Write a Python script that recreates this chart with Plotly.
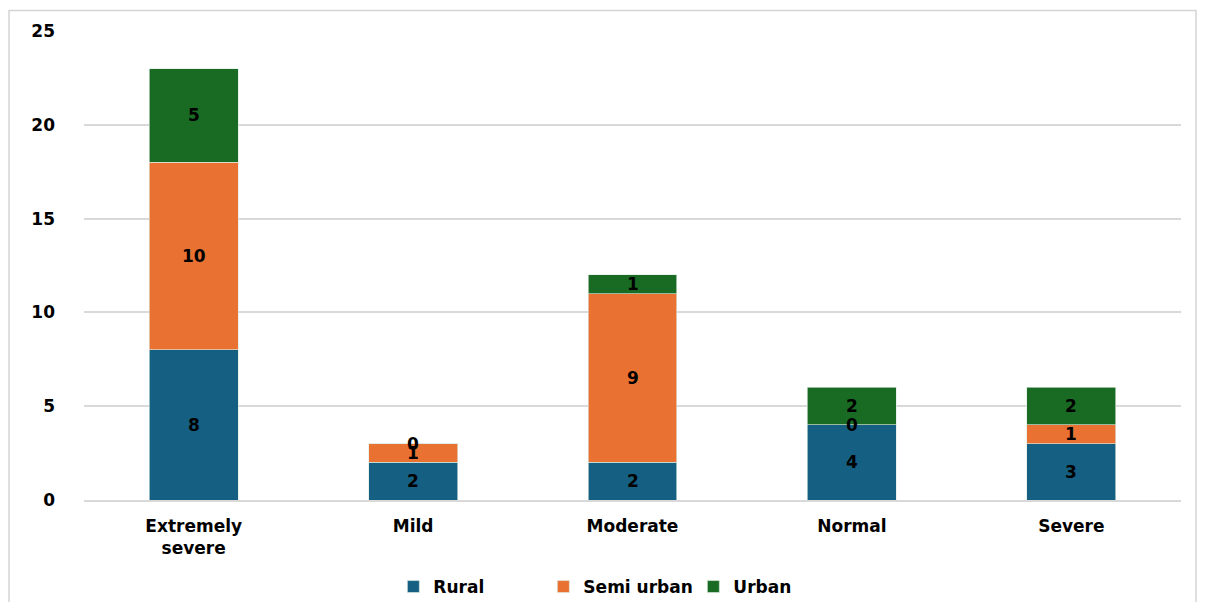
import plotly.graph_objects as go

categories = ["Extremely severe", "Mild", "Moderate", "Normal", "Severe"]
tick_labels = ["Extremely<br>severe", "Mild", "Moderate", "Normal", "Severe"]
rural = [8, 2, 2, 4, 3]
semi_urban = [10, 1, 9, 0, 1]
urban = [5, 0, 1, 2, 2]

series = [("Rural", rural, "#156082"), ("Semi urban", semi_urban, "#E97132"), ("Urban", urban, "#196B24")]

FONT = "DejaVu Sans, Verdana, sans-serif"
FS = 17
# page body adds an 8px margin, so the figure is drawn 8px smaller on each side
OFF = 8
W, H = 1205 - 2 * OFF, 610 - 2 * OFF
ml, mr, mt, mb = 83.5 - OFF, 1205 - 1181 - OFF, 31 - OFF, 610 - 500 - OFF
pw, ph = W - ml - mr, H - mt - mb


def px(x):
    return (x - OFF - ml) / pw


def py(y):
    return (H - mb - (y - OFF)) / ph


fig = go.Figure()
annotations = []
base = [0] * len(categories)
for name, vals, color in series:
    fig.add_trace(go.Bar(
        x=categories, y=vals, name=name,
        marker=dict(color=color, line=dict(color="rgba(220,235,225,0.8)", width=0.8)),
    ))
    for i, v in enumerate(vals):
        annotations.append(dict(
            x=categories[i], y=base[i] + v / 2, xref="x", yref="y",
            text=f"<b>{v}</b>", showarrow=False,
            font=dict(family=FONT, size=FS, color="#000000"),
        ))
        base[i] += v

fig.update_layout(
    barmode="stack",
    bargap=0.595,
    width=W, height=H,
    margin=dict(l=ml, r=mr, t=mt, b=mb, autoexpand=False),
    paper_bgcolor="white", plot_bgcolor="white",
    font=dict(family=FONT, size=FS, color="#000000"),
    annotations=annotations,
    legend=dict(
        orientation="h", x=px(393), xanchor="left", y=py(587), yanchor="middle",
        font=dict(family=FONT, size=FS, color="#000000", weight="bold"),
        itemwidth=30, traceorder="normal",
        entrywidth=105, entrywidthmode="pixels",
    ),
    shapes=[dict(type="rect", xref="paper", yref="paper",
                 x0=px(8.5), x1=px(1196), y0=py(640), y1=py(10.5),
                 line=dict(color="#D4D4D4", width=1.5), layer="below")],
)
fig.update_xaxes(
    tickvals=categories, ticktext=tick_labels,
    tickfont=dict(family=FONT, size=FS, color="#000000", weight="bold"),
    showgrid=False, showline=True, linecolor="#D9D9D9", linewidth=1.5,
    ticks="", ticklabelstandoff=10, automargin=False,
)
fig.update_yaxes(
    range=[0, 25], tickvals=[0, 5, 10, 15, 20, 25],
    tickfont=dict(family=FONT, size=FS, color="#000000", weight="bold"),
    showgrid=True, gridcolor="#D9D9D9", gridwidth=1.5, zeroline=False,
    ticks="", ticklabelstandoff=28, automargin=False,
)

fig.write_html("out.html")
